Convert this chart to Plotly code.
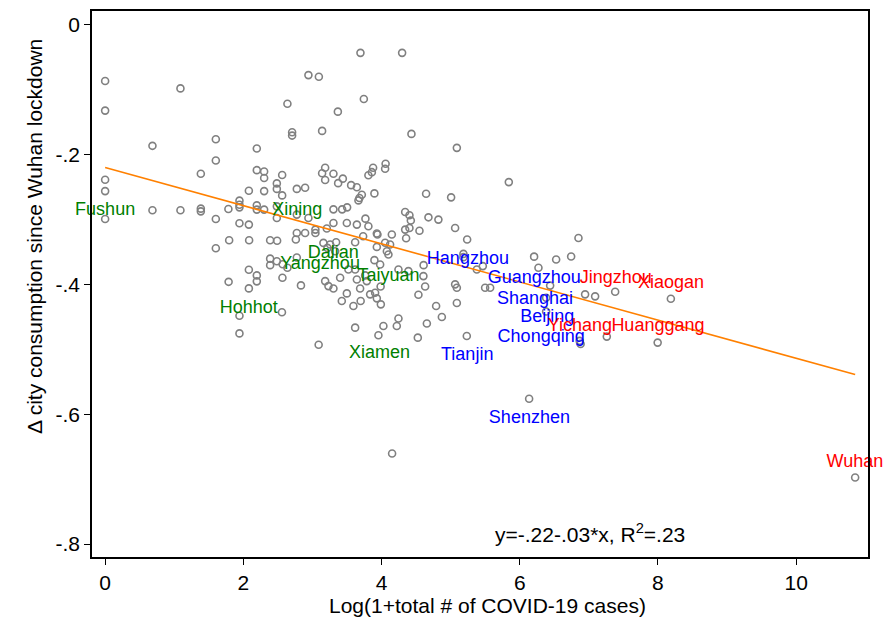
import plotly.graph_objects as go

# Log(1+total cases) and change in consumption for each city
log_cases = [
    0.0, 0.0, 1.09, 0.685, 1.602, 1.602, 1.385, 0.0, 0.0, 2.195,
    2.638, 2.942, 3.093, 3.695, 4.298, 3.744, 3.368, 2.706, 2.706, 3.140,
    4.433, 5.090, 5.842, 2.195, 2.301, 2.301, 2.562, 2.485, 2.485, 2.562,
    2.080, 2.301, 2.774, 2.894, 3.184, 3.140, 3.184, 3.304, 3.372, 3.440,
    3.560, 3.643, 3.878, 3.860, 3.810, 4.059, 4.052, 3.897, 3.715, 3.680,
    3.666, 4.645, 5.007, 1.944, 1.944, 1.944, 1.784, 1.385, 1.385, 1.602,
    2.195, 2.195, 2.301, 2.485, 2.485, 2.774, 2.942, 1.944, 2.080, 2.774,
    2.894, 3.043, 3.043, 3.208, 1.795, 2.084, 2.388, 2.489, 2.760, 0.0,
    0.685, 1.090, 1.602, 2.388, 2.388, 2.485, 2.569, 2.638, 2.774, 2.080,
    2.195, 2.195, 1.787, 2.080, 2.566, 2.834, 1.944, 2.559, 1.944, 3.090,
    3.304, 3.430, 3.502, 3.304, 3.498, 3.643, 3.810, 3.767, 3.932, 3.734,
    3.159, 3.256, 3.343, 3.217, 3.329, 3.618, 3.932, 4.052, 4.124, 4.077,
    4.100, 3.897, 3.980, 3.521, 3.618, 3.643, 3.763, 3.690, 3.184, 3.232,
    3.304, 3.498, 3.401, 3.593, 3.698, 3.907, 3.932, 3.990, 3.987, 3.618,
    3.955, 4.027, 4.221, 4.245, 4.525, 4.656, 5.234, 4.342, 4.404, 4.424,
    4.679, 4.823, 4.342, 4.404, 4.549, 5.065, 3.941, 4.149, 4.356, 5.239,
    4.245, 4.389, 4.609, 4.606, 4.631, 4.534, 5.065, 5.090, 5.090, 4.790,
    4.873, 5.185, 5.185, 5.379, 5.466, 6.208, 6.527, 6.744, 6.850, 6.271,
    5.499, 5.572, 6.440, 6.382, 6.382, 6.946, 7.091, 7.381, 6.867, 6.881,
    7.260, 7.996, 8.187, 6.136, 4.153, 10.854, 3.787, 3.835, 3.425,
]
consumption_change = [
    -0.0865, -0.132, -0.0978, -0.1863, -0.1762, -0.2089, -0.2293, -0.2386, -0.2561, -0.1905,
    -0.1214, -0.0773, -0.0799, -0.0430, -0.0430, -0.1141, -0.1336, -0.1654, -0.1705, -0.1633,
    -0.1679, -0.1894, -0.2422, -0.2238, -0.2258, -0.2358, -0.2312, -0.2442, -0.2527, -0.2627,
    -0.2555, -0.2561, -0.2527, -0.2508, -0.2201, -0.2286, -0.2389, -0.2293, -0.2438, -0.2369,
    -0.2469, -0.2501, -0.2201, -0.2269, -0.2316, -0.2140, -0.2217, -0.2596, -0.2616, -0.2668,
    -0.2704, -0.2601, -0.2657, -0.2708, -0.2770, -0.2811, -0.2837, -0.2831, -0.2873, -0.2991,
    -0.2780, -0.2846, -0.2846, -0.2796, -0.2975, -0.2923, -0.2975, -0.3057, -0.3077, -0.3206,
    -0.3206, -0.3154, -0.3206, -0.3138, -0.3318, -0.3318, -0.3318, -0.3326, -0.3307, -0.2991,
    -0.2857, -0.2857, -0.3441, -0.3602, -0.3702, -0.3641, -0.3687, -0.3743, -0.3584, -0.3774,
    -0.3860, -0.3952, -0.3959, -0.4060, -0.3897, -0.4014, -0.4481, -0.4429, -0.4754, -0.4928,
    -0.2842, -0.2842, -0.2811, -0.3052, -0.3052, -0.3077, -0.3103, -0.2985, -0.3215, -0.3257,
    -0.3359, -0.3384, -0.3349, -0.3436, -0.3487, -0.3349, -0.3421, -0.3356, -0.3384, -0.3487,
    -0.3538, -0.3625, -0.3691, -0.3768, -0.3768, -0.3922, -0.3860, -0.4063, -0.3948, -0.4025,
    -0.4063, -0.4137, -0.3897, -0.4332, -0.4255, -0.4127, -0.4214, -0.4306, -0.4032, -0.4665,
    -0.4782, -0.4639, -0.4639, -0.4524, -0.4819, -0.4601, -0.4793, -0.2883, -0.2934, -0.3015,
    -0.2965, -0.3000, -0.3154, -0.3129, -0.3172, -0.3129, -0.3230, -0.3230, -0.3287, -0.3307,
    -0.3768, -0.3794, -0.3702, -0.3871, -0.4032, -0.4158, -0.3998, -0.4051, -0.4286, -0.4332,
    -0.4501, -0.3528, -0.3579, -0.3768, -0.3717, -0.3571, -0.3614, -0.3568, -0.3283, -0.3743,
    -0.4051, -0.4051, -0.4017, -0.4204, -0.4416, -0.4152, -0.4183, -0.4112, -0.4869, -0.4916,
    -0.4803, -0.4896, -0.4220, -0.5760, -0.6605, -0.6974, -0.3948, -0.4152, -0.4255,
]

# City labels (label anchor in data units) and their groups
label_cities = ["Fushun", "Xining", "Dalian", "Yangzhou", "Taiyuan", "Hohhot", "Xiamen",
                "Hangzhou", "Guangzhou", "Shanghai", "Beijing", "Chongqing", "Tianjin", "Shenzhen",
                "Jingzhou", "Xiaogan", "Yichang", "Huanggang", "Wuhan"]
label_x = [0.0, 2.78, 3.30, 3.11, 4.10, 2.08, 3.97,
           5.25, 6.21, 6.22, 6.40, 6.31, 5.24, 6.14,
           7.39, 8.19, 6.87, 8.00, 10.85]
label_y = [-0.286, -0.286, -0.352, -0.369, -0.387, -0.437, -0.507,
           -0.362, -0.390, -0.423, -0.451, -0.482, -0.510, -0.607,
           -0.390, -0.398, -0.465, -0.465, -0.674]
label_group = ["green"] * 7 + ["blue"] * 7 + ["red"] * 5

# Fitted line
fit_intercept = -0.2197
fit_slope = -0.0294
fit_r2 = 0.23

x_ticks = [0, 2, 4, 6, 8, 10]
y_ticks = [0, -0.2, -0.4, -0.6, -0.8]
y_tick_text = ["0", "-.2", "-.4", "-.6", "-.8"]

group_colors = {"green": "rgb(0,128,0)", "blue": "rgb(0,0,255)", "red": "rgb(255,0,0)"}
FONT = "Arial, 'Liberation Sans', sans-serif"

fig = go.Figure()

fig.add_trace(go.Scatter(
    x=log_cases, y=consumption_change, mode="markers",
    marker=dict(symbol="circle-open", size=7, color="rgb(128,128,128)",
                line=dict(width=1.6, color="rgb(128,128,128)")),
    hoverinfo="x+y", showlegend=False,
))

x_max = max(log_cases)
fig.add_trace(go.Scatter(
    x=[0, x_max], y=[fit_intercept, fit_intercept + fit_slope * x_max],
    mode="lines", line=dict(color="rgb(255,128,0)", width=1.6),
    showlegend=False, hoverinfo="skip",
))

fig.add_trace(go.Scatter(
    x=label_x, y=label_y, mode="text", text=label_cities,
    textposition="middle center", cliponaxis=False,
    textfont=dict(family=FONT, size=18, color=[group_colors[g] for g in label_group]),
    showlegend=False, hoverinfo="skip",
))

fig.add_annotation(
    x=7.02, y=-0.783, xref="x", yref="y", showarrow=False,
    xanchor="center", yanchor="middle",
    text=f"y={fit_intercept:.2f}-{abs(fit_slope):.2f}*x, R<sup>2</sup>={fit_r2:.2f}".replace("0.", "."),
    font=dict(family=FONT, size=21, color="black"),
)

fig.add_annotation(
    x=-0.0747, y=0.586, xref="paper", yref="paper", showarrow=False,
    xanchor="center", yanchor="middle",
    text="\u0394 city consumption since Wuhan lockdown", textangle=-90,
    font=dict(family=FONT, size=21, color="black"),
)
fig.add_annotation(
    x=0.51, y=-0.0894, xref="paper", yref="paper", showarrow=False,
    xanchor="center", yanchor="middle",
    text="Log(1+total # of COVID-19 cases)",
    font=dict(family=FONT, size=21, color="black"),
)

axis_common = dict(showgrid=False, zeroline=False, showline=True, mirror=True,
                   linecolor="black", linewidth=1.5, ticks="outside", ticklen=6,
                   tickcolor="black", tickwidth=1.2,
                   tickfont=dict(family=FONT, size=21, color="black"))

fig.update_layout(
    width=885, height=622,
    margin=dict(l=92, r=17, t=9, b=65),
    plot_bgcolor="white", paper_bgcolor="white",
    xaxis=dict(range=[-0.19, 11.04], tickvals=x_ticks, **axis_common),
    yaxis=dict(range=[-0.82, 0.0215], tickvals=y_ticks, ticktext=y_tick_text, **axis_common),
    showlegend=False,
)

fig.write_html("out.html")
